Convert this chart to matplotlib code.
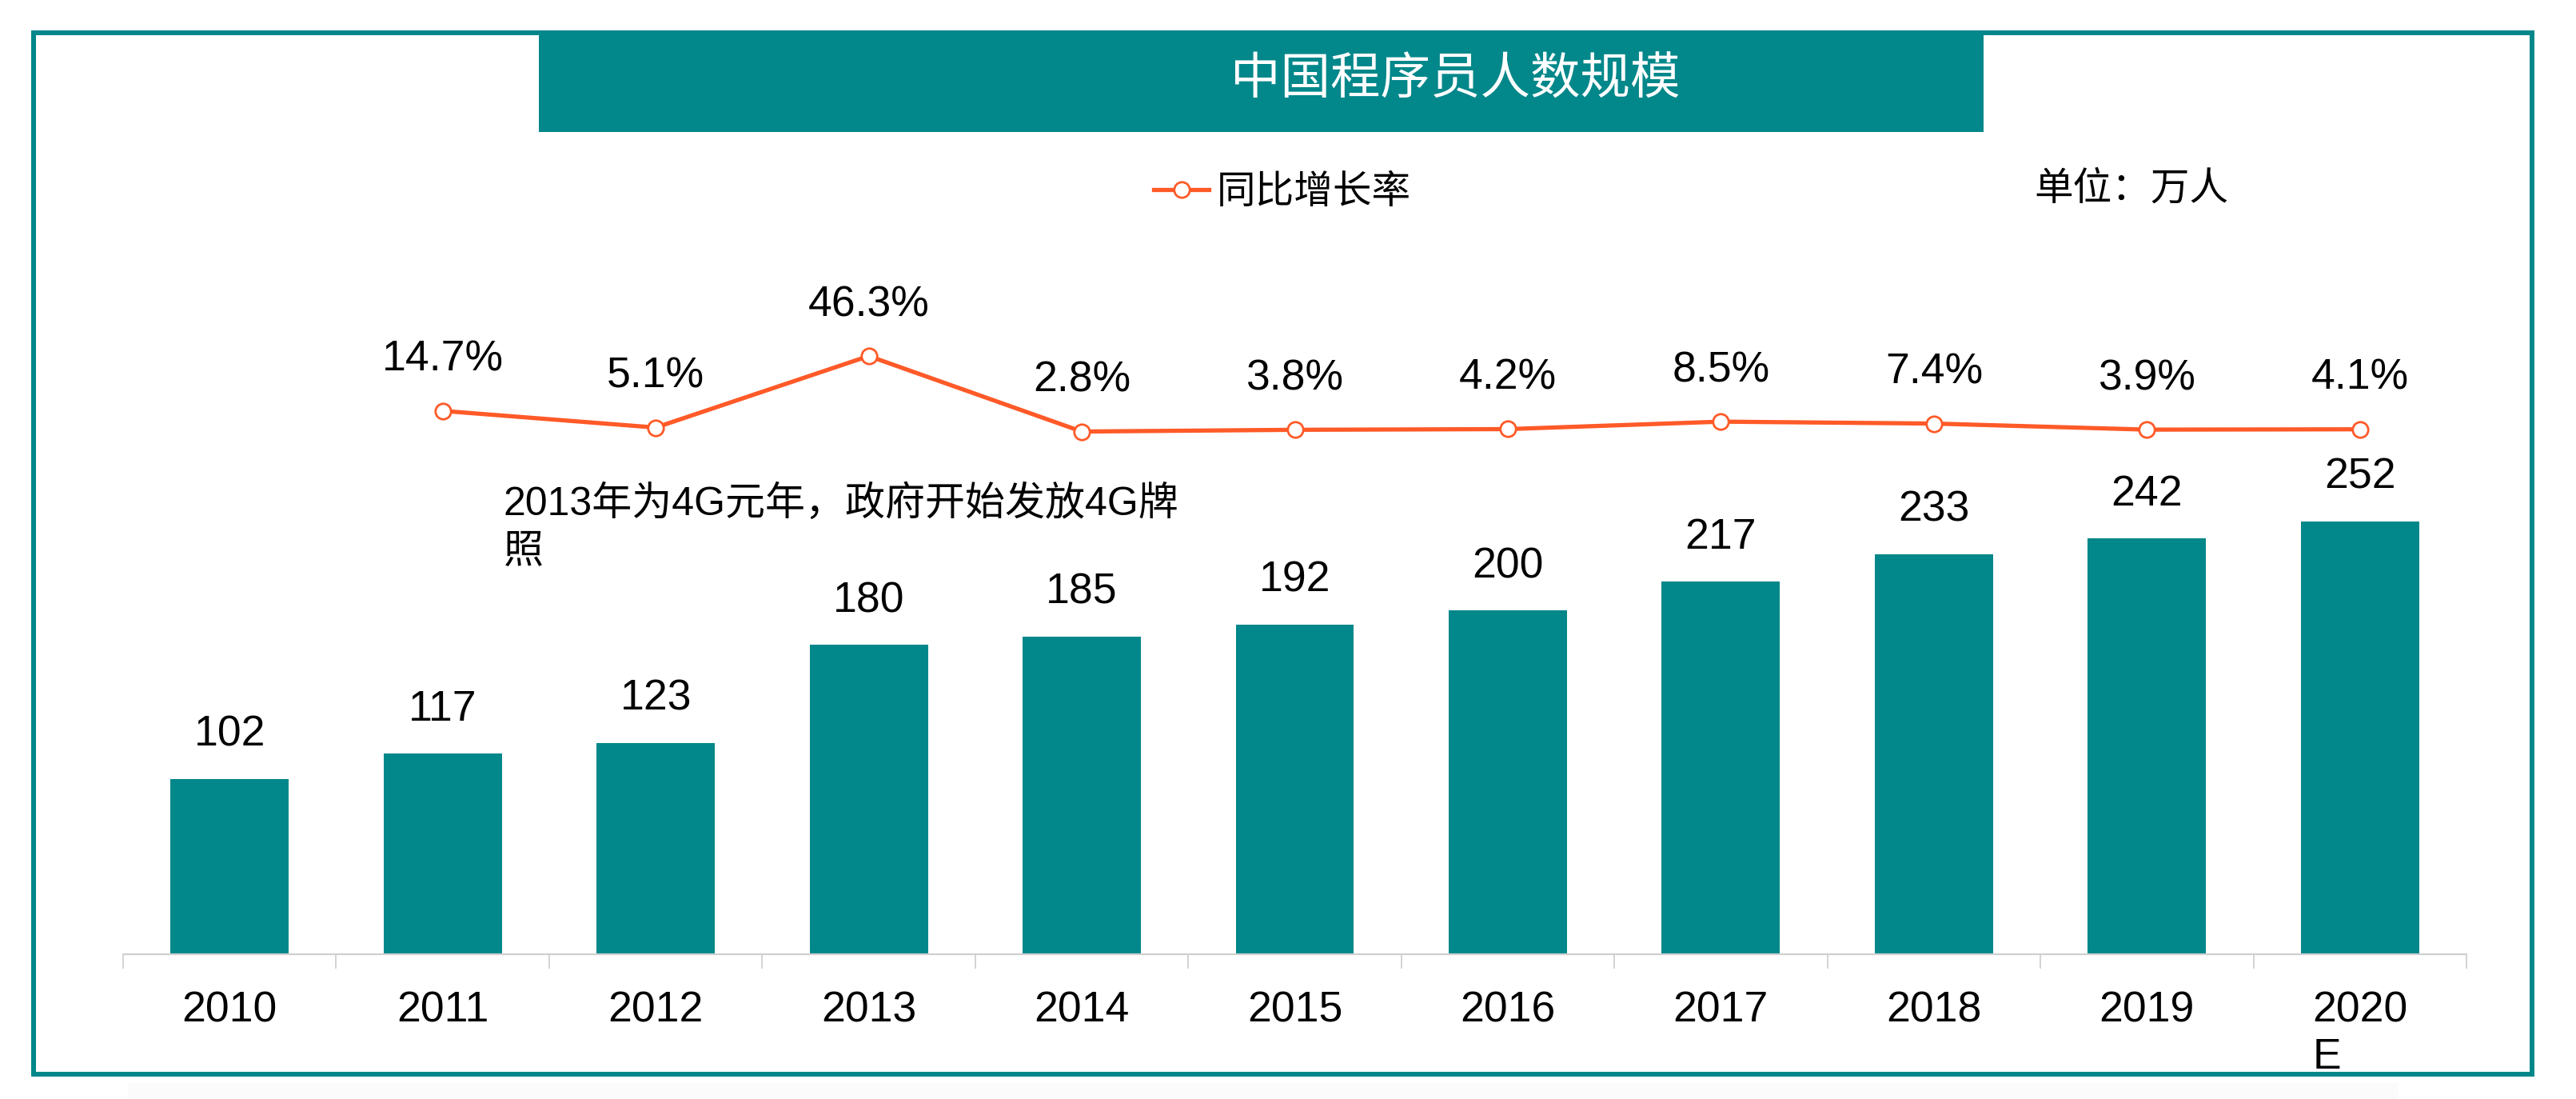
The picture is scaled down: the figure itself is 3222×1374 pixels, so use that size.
import numpy as np
import matplotlib
matplotlib.use('Agg')
import matplotlib.pyplot as plt
from matplotlib.patches import Rectangle

# ---------------- data ----------------
years = ['2010', '2011', '2012', '2013', '2014', '2015', '2016', '2017', '2018', '2019', '2020\nE']
programmers = [102, 117, 123, 180, 185, 192, 200, 217, 233, 242, 252]   # 万人
growth_years = ['2011', '2012', '2013', '2014', '2015', '2016', '2017', '2018', '2019', '2020\nE']
growth = [14.7, 5.1, 46.3, 2.8, 3.8, 4.2, 8.5, 7.4, 3.9, 4.1]           # %
title = '中国程序员人数规模'
legend_label = '同比增长率'
unit_label = '单位：万人'
note = '2013年为4G元年，政府开始发放4G牌\n照'

TEAL = '#02878A'
ORANGE = '#FF5A28'
GRID = '#D0D0D0'
LAT = ['Liberation Sans', 'Noto Sans CJK SC', 'DejaVu Sans']
CJK = ['Noto Sans CJK SC', 'DejaVu Sans']

W, H = 3222, 1374
fig = plt.figure(figsize=(W / 100, H / 100), dpi=100)
fig.patch.set_facecolor('white')


def fx(x):
    return x / W


def fy(y):
    return 1 - y / H


# ---------------- axes ----------------
ax_top_px, ax_bot_px = 300, 1193
ax = fig.add_axes([fx(154), fy(ax_bot_px), fx(3085) - fx(154), fy(ax_top_px) - fy(ax_bot_px)])
ax.patch.set_visible(False)
xpos = np.arange(len(years))
ax.bar(xpos, programmers, width=0.555, color=TEAL, zorder=2)
ax.set_xlim(-0.5, len(years) - 0.5)
ax.set_ylim(0, (ax_bot_px - ax_top_px) / 2.148)

for s in ['top', 'left', 'right']:
    ax.spines[s].set_visible(False)
ax.spines['bottom'].set_color(GRID)
ax.spines['bottom'].set_linewidth(1.6)
ax.set_yticks([])
ax.set_xticks(xpos)
ax.set_xticklabels(years, fontsize=38.5, family=LAT, multialignment='left')
ax.tick_params(axis='x', which='major', length=0, pad=33)
ax.set_xticks(np.arange(-0.5, len(years), 1.0), minor=True)
ax.tick_params(axis='x', which='minor', length=13, width=1.3, color=GRID)

for i, v in zip(xpos, programmers):
    ax.annotate(f'{v}', (i, v), xytext=(0, 29.5), textcoords='offset points',
                ha='center', va='baseline', fontsize=38.5, family=LAT)

ax2 = ax.twinx()
ax2.patch.set_visible(False)
ax2.set_ylim((545.6 - ax_bot_px) / 2.17, (545.6 - ax_top_px) / 2.17)
gx = [years.index(y) for y in growth_years]
line, = ax2.plot(gx, growth, color=ORANGE, lw=3.8, marker='o', ms=14,
                 mfc='white', mec=ORANGE, mew=2, zorder=3)
for s in ax2.spines.values():
    s.set_visible(False)
ax2.set_yticks([])
for i, g in zip(gx, growth):
    ax2.annotate(f'{g:.1f}%', (i, g), xytext=(0, 36), textcoords='offset points',
                 ha='center', va='baseline', fontsize=38.5, family=LAT)

leg = ax2.legend([line], [legend_label], loc='center left',
                 bbox_to_anchor=(fx(1443), fy(240)), bbox_transform=fig.transFigure,
                 frameon=False, prop={'family': CJK, 'size': 35},
                 handlelength=1.42, handletextpad=0.2, borderpad=0, borderaxespad=0)

# ---------------- decorations ----------------
fig.patches.append(Rectangle((fx(160), fy(1374)), fx(3000) - fx(160), fy(1354) - fy(1374),
                             transform=fig.transFigure, fc='#FBFBFB', ec='none', zorder=0))
fig.patches.append(Rectangle((fx(42), fy(1343)), fx(3167) - fx(42), fy(41) - fy(1343),
                             transform=fig.transFigure, fill=False, ec=TEAL, lw=6 * 0.72, zorder=1))
fig.patches.append(Rectangle((fx(674), fy(165)), fx(2481) - fx(674), fy(44) - fy(165),
                             transform=fig.transFigure, fc=TEAL, ec='none', zorder=1))
fig.text(fx(1820), fy(100), title, color='white', fontsize=45, ha='center', va='center', family=CJK)
fig.text(fx(2544), fy(236), unit_label, fontsize=35, ha='left', va='center', family=CJK)
fig.text(fx(630), fy(606), note, fontsize=36, ha='left', va='top', family=LAT, linespacing=1.4)

fig.savefig('out.png', dpi=100, facecolor='white')
